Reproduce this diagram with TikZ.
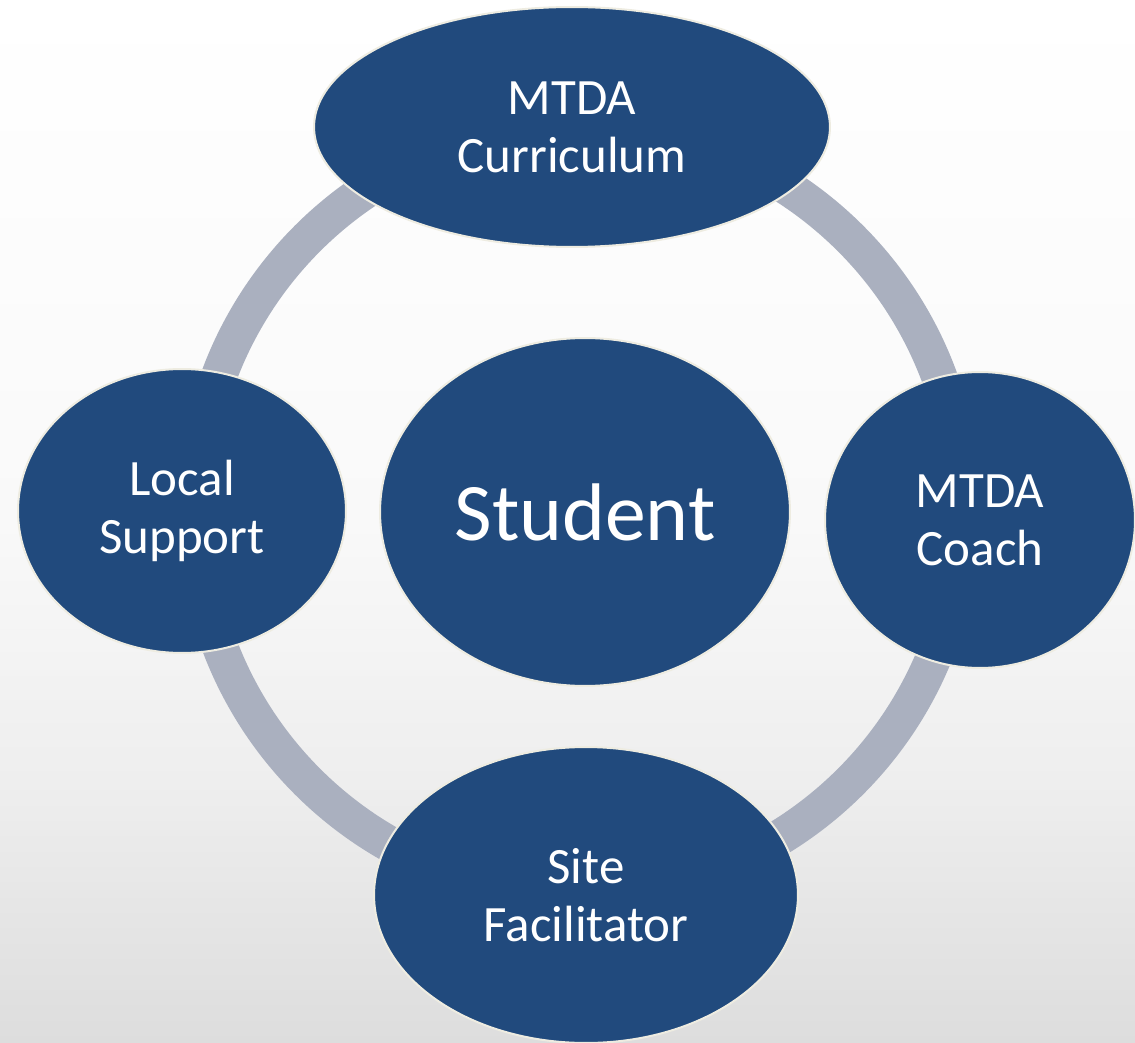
\documentclass[tikz,border=0pt]{standalone}
\usepackage{fontspec}
\setmainfont{Carlito}
\usepackage{tikz}
\usetikzlibrary{shapes.geometric,positioning}
\definecolor{fillblue}{HTML}{214A7D}
\definecolor{rim}{HTML}{EEECE1}
\definecolor{band}{HTML}{AAB0BF}
\definecolor{floor}{HTML}{DDDDDD}
\definecolor{lowmid}{HTML}{EEEEEE}
\definecolor{mid}{HTML}{F9F9F9}
\pgfdeclareverticalshading{backdrop}{100bp}{color(0bp)=(floor); color(25bp)=(floor);
  color(37.5bp)=(lowmid); color(50bp)=(mid); color(75bp)=(white); color(100bp)=(white)}
\tikzset{
  blob/.style={ellipse, fill=fillblue, draw=rim, line width=0.04cm, inner sep=0pt,
    text=white, align=center, font=\fontsize{29}{33}\selectfont},
  big/.style={font=\fontsize{46.5}{52}\selectfont},
  ring/.style={draw=band, line width=0.72cm},
}
\begin{document}
\begin{tikzpicture}[x=0.02cm, y=-0.02cm]
% backdrop
\shade[shading=backdrop] (0,0) rectangle (1135,1043);
\useasboundingbox (0,0) rectangle (1135,1043);

% ring behind the roles
\coordinate (hub) at (579,510);
\draw[ring] (hub) circle[radius=384];

\node[blob, big, minimum width=8.2cm, minimum height=6.96cm] (stu) at (585,512) {Student};
\node[blob, minimum width=10.32cm, minimum height=4.8cm] (cur) at (572,127) {MTDA\\Curriculum};
\node[blob, minimum width=6.56cm, minimum height=5.68cm] (loc) at (182,511) {Local\\Support};
\node[blob, minimum width=6.2cm, minimum height=5.92cm] (coach) at (980,520) {MTDA\\Coach};
\node[blob, minimum width=8.48cm, minimum height=5.92cm] (site) at (586,895) {Site\\Facilitator};
\end{tikzpicture}
\end{document}
